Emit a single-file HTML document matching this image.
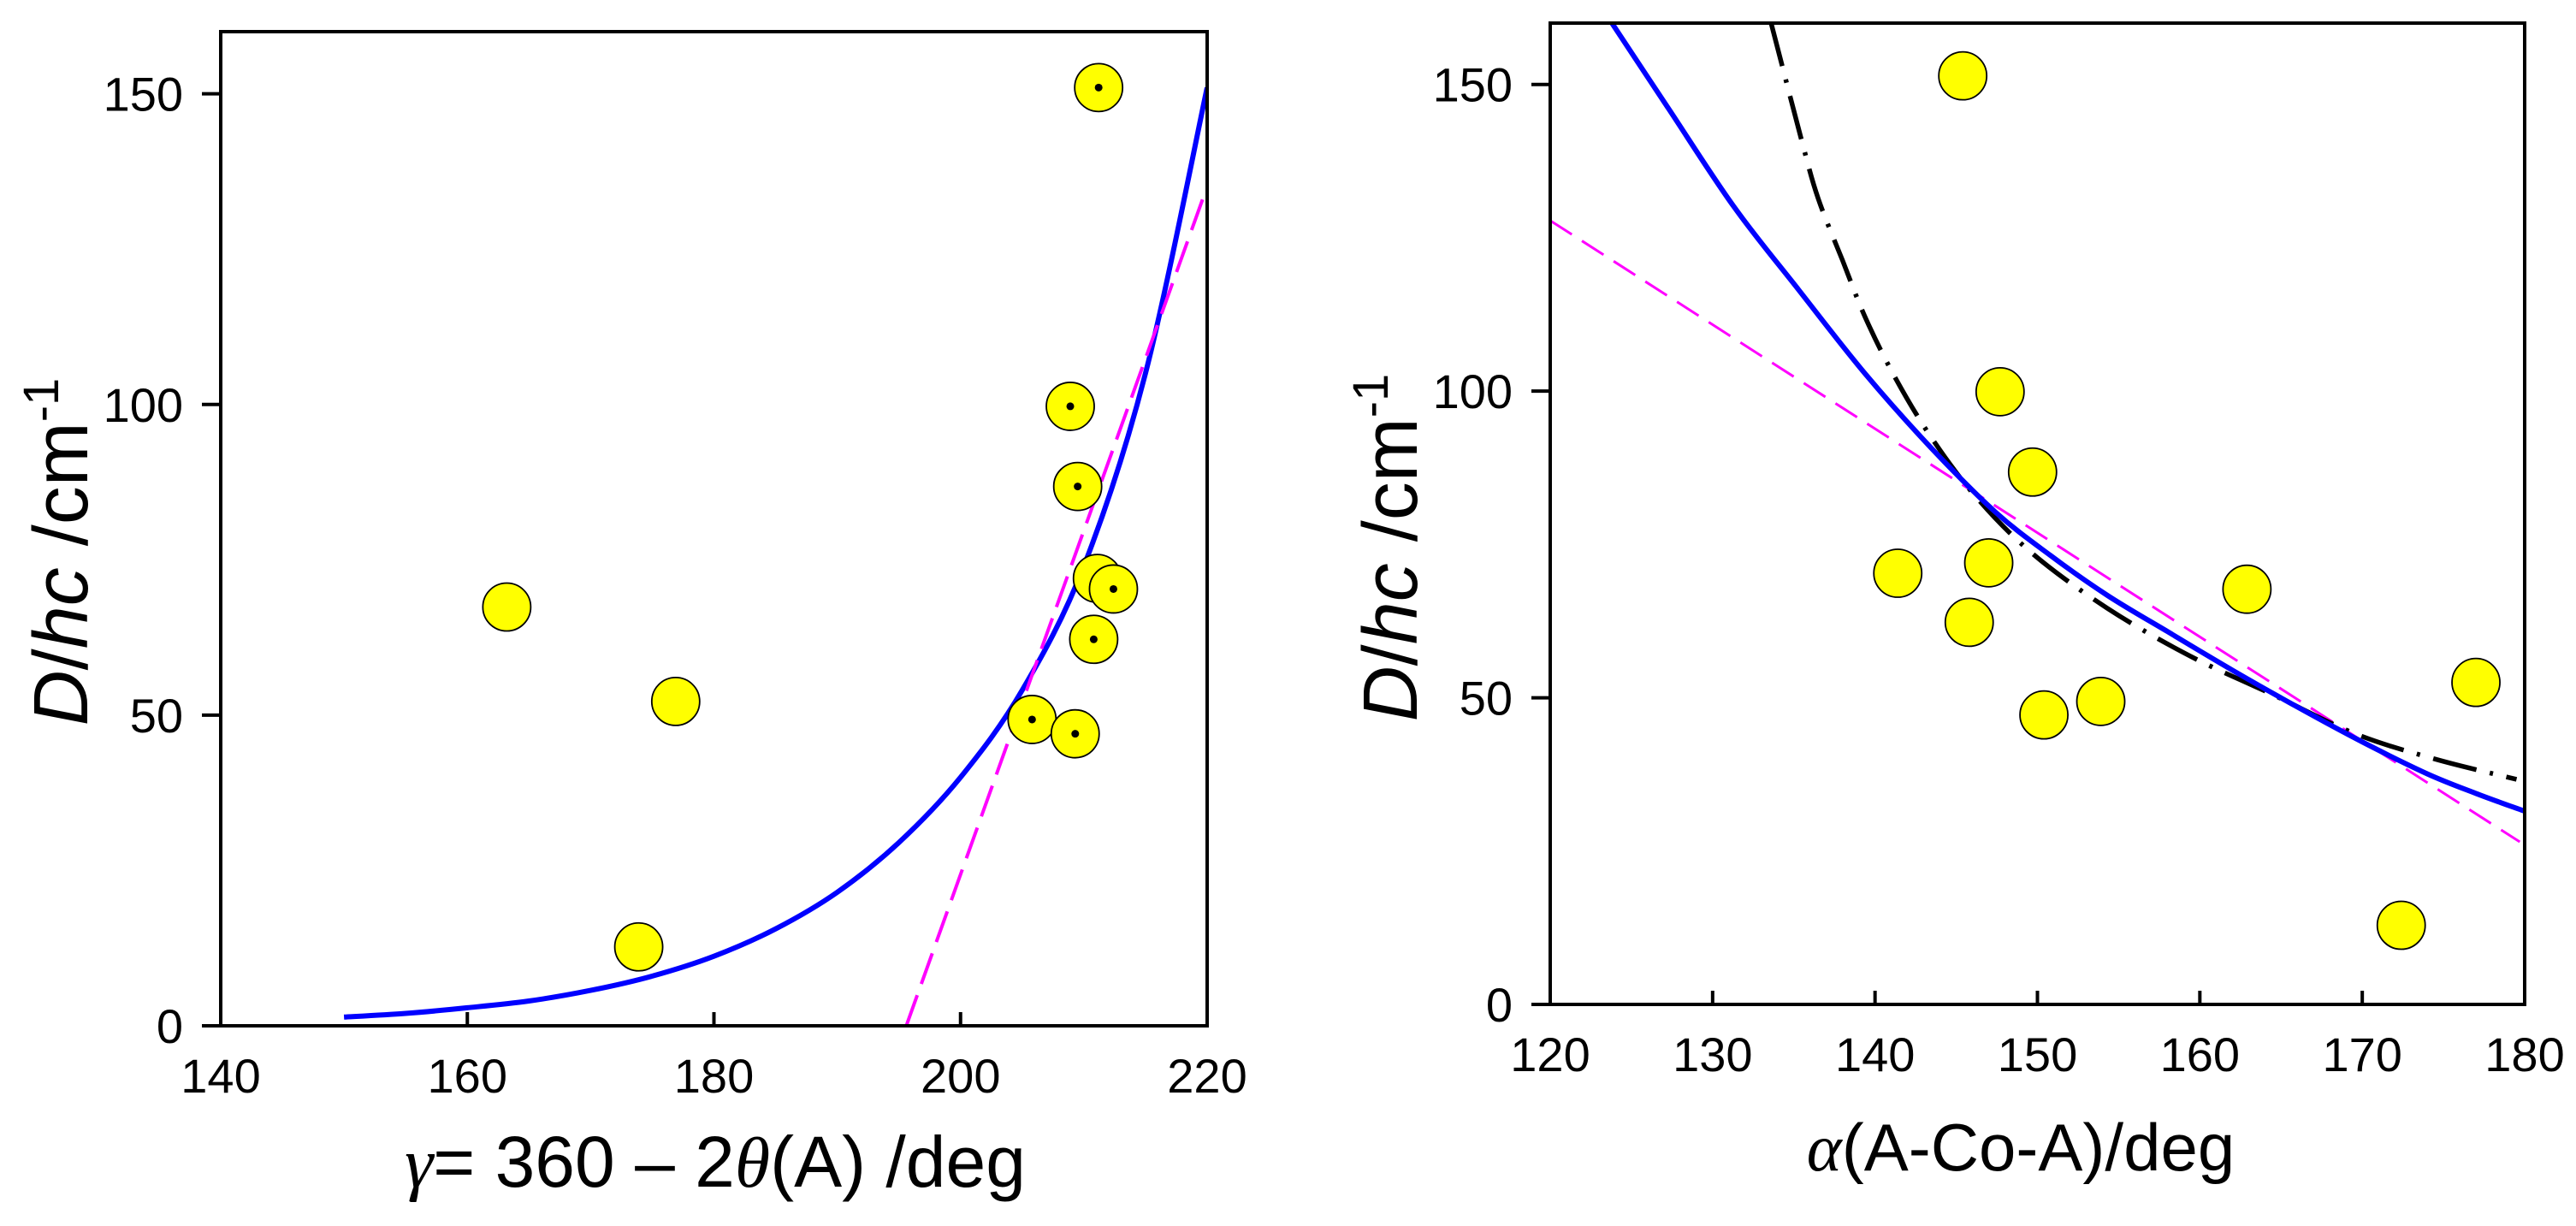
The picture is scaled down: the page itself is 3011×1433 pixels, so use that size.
<!DOCTYPE html>
<html><head><meta charset="utf-8"><style>
html,body{margin:0;padding:0;background:#fff}
svg{display:block;font-family:"Liberation Sans",Arial,sans-serif}
</style></head><body>
<svg id="chart" width="3011" height="1433" viewBox="0 0 3011 1433" xmlns="http://www.w3.org/2000/svg">
<g id="left"></g>
<g id="right"></g>
<text transform="translate(102,645) rotate(-90)" text-anchor="middle" font-size="90"><tspan font-style="italic">D</tspan>/<tspan font-style="italic">hc</tspan> /cm<tspan dy="-34" font-size="58">-1</tspan></text>
<text x="836" y="1387" text-anchor="middle" font-size="84"><tspan font-style="italic" font-family="Liberation Serif">γ</tspan>= 360 – 2<tspan font-style="italic" font-family="Liberation Serif">θ</tspan>(A) /deg</text>
<text transform="translate(1656,640) rotate(-90)" text-anchor="middle" font-size="90"><tspan font-style="italic">D</tspan>/<tspan font-style="italic">hc</tspan> /cm<tspan dy="-34" font-size="58">-1</tspan></text>
<text x="2362" y="1368" text-anchor="middle" font-size="78"><tspan font-style="italic" font-family="Liberation Serif">α</tspan>(A-Co-A)/deg</text>
</svg>
<script>
// ---- Left panel data ----
const leftGamma = [163.2,176.9,173.9,211.2,208.9,209.5,211.1,212.4,210.8,205.8,209.3];
const leftD     = [67.4,52.2,12.7,151,99.7,86.8,72,70.3,62.2,49.3,47];
const leftHasDot= [0,0,0,1,1,1,1,1,1,1,1];
const leftFitX  = [150,155,160,165,170,175,180,185,190,195,200,205,210,215,220];
const leftFitY  = [1.4,2.0,2.9,4.0,5.7,8.0,11.2,15.6,21.5,29.5,40,54,74,105,151];
const leftLinX  = [195.6,219.7];
const leftLinY  = [0,133.4];
const leftXTicks= [140,160,180,200,220];
const leftYTicks= [0,50,100,150];
// ---- Right panel data ----
const rightAlpha= [145.4,147.7,149.7,141.4,147.0,145.8,150.4,153.9,162.9,177.0,172.4];
const rightD    = [151.4,99.9,86.8,70.3,72.0,62.3,47.2,49.4,67.7,52.5,12.9];
const rightBlueX= [123.8,127.3,131.3,135.3,139.4,143.4,147.4,150.8,154.3,158,162,166,170,174,177,180];
const rightBlueY= [160,146,130.1,116.5,102.8,90.9,80.3,73.2,66.7,60.8,54.5,48.5,42.8,37.6,34.4,31.5];
const rightDashX= [133.6,135.5,136.5,138,139.4,141.2,143.4,146.2,149.7,154.3,159.4,164.5,169.6,174.5,179.5];
const rightDashY= [160,140.7,131.4,121.3,112,102.4,92.7,82.8,73.5,64.6,56.8,50.5,44.1,40,36.7];
const rightLinX = [120,179.7];
const rightLinY = [127.8,26.5];
const rightXTicks=[120,130,140,150,160,170,180];
const rightYTicks=[0,50,100,150];

const NS="http://www.w3.org/2000/svg";
function mk(parent,tag,attrs){const e=document.createElementNS(NS,tag);for(const k in attrs)e.setAttribute(k,attrs[k]);parent.appendChild(e);return e;}
function axis(x0,x1,px0,px1){return v=>px0+(v-x0)/(x1-x0)*(px1-px0);}
function smoothPath(xs,ys,sx,sy){
  const P=xs.map((v,i)=>[sx(v),sy(ys[i])]);
  if(P.length<3) return 'M'+P[0].join(',')+' L'+P[1].join(',');
  let d='M'+P[0][0].toFixed(1)+','+P[0][1].toFixed(1);
  for(let i=0;i<P.length-1;i++){
    const p0=P[Math.max(0,i-1)],p1=P[i],p2=P[i+1],p3=P[Math.min(P.length-1,i+2)];
    const c1=[p1[0]+(p2[0]-p0[0])/6,p1[1]+(p2[1]-p0[1])/6];
    const c2=[p2[0]-(p3[0]-p1[0])/6,p2[1]-(p3[1]-p1[1])/6];
    d+=' C'+c1.map(v=>v.toFixed(1)).join(',')+' '+c2.map(v=>v.toFixed(1)).join(',')+' '+p2.map(v=>v.toFixed(1)).join(',');
  }
  return d;
}

function panel(g,o){
  const sx=axis(o.xmin,o.xmax,o.L,o.R), sy=axis(0,160,o.B,o.T);
  const clip=mk(g,'clipPath',{id:o.id+'clip'});
  mk(clip,'rect',{x:o.L,y:o.T,width:o.R-o.L,height:o.B-o.T});
  const cg=mk(g,'g',{'clip-path':'url(#'+o.id+'clip)'});
  o.lines.forEach(ln=>{
    const p=mk(cg,'path',{d:smoothPath(ln.x,ln.y,sx,sy),fill:'none',stroke:ln.c,'stroke-width':ln.w,'stroke-dasharray':ln.d||'none','stroke-linejoin':'round','stroke-linecap':ln.cap||'butt'});
    
    
  });
  const f=mk(g,'rect',{x:o.L,y:o.T,width:o.R-o.L,height:o.B-o.T,fill:'none',stroke:'#000','stroke-width':4});
  
  
  o.xt.forEach(v=>{
    const t=mk(g,'line',{x1:sx(v),x2:sx(v),y1:o.B,y2:o.B-16,stroke:'#000','stroke-width':4});
    
    
    const l=mk(g,'text',{x:sx(v),y:o.B+78,'text-anchor':'middle','font-size':56});
    l.textContent=v;
    
    
  });
  o.yt.forEach(v=>{
    const t=mk(g,'line',{x1:o.L,x2:o.L-22,y1:sy(v),y2:sy(v),stroke:'#000','stroke-width':4});
    
    
    const l=mk(g,'text',{x:o.L-44,y:sy(v)+20,'text-anchor':'end','font-size':56});
    l.textContent=v;
    
    
  });
  o.px.forEach((v,i)=>{
    const c=mk(g,'circle',{cx:sx(v),cy:sy(o.py[i]),r:28,fill:'#ffff00',stroke:'#000','stroke-width':1.8});
    
    
    if(o.dots&&o.dots[i]){
      const d=mk(g,'circle',{cx:sx(v),cy:sy(o.py[i]),r:4.5,fill:'#000'});
      
      
    }
  });
}
panel(document.getElementById('left'),{id:'l',L:258,R:1411,T:37,B:1199,xmin:140,xmax:220,xt:leftXTicks,yt:leftYTicks,
  px:leftGamma,py:leftD,dots:leftHasDot,
  lines:[{x:leftFitX,y:leftFitY,c:'#0000ff',w:6,name:'exponential-fit-line'},
         {x:leftLinX,y:leftLinY,c:'#ff00ff',w:4,d:'38 14',name:'linear-fit-line'}]});
panel(document.getElementById('right'),{id:'r',L:1812,R:2951,T:27,B:1174,xmin:120,xmax:180,xt:rightXTicks,yt:rightYTicks,
  px:rightAlpha,py:rightD,
  lines:[{x:rightLinX,y:rightLinY,c:'#ff00ff',w:3,d:'30 14',name:'linear-fit-line'},
         {x:rightDashX,y:rightDashY,c:'#000',w:5.5,d:'52 16 4 16',name:'dash-dot-fit-line'},
         {x:rightBlueX,y:rightBlueY,c:'#0000ff',w:6,name:'blue-fit-line'}]});
</script>
</body></html>
